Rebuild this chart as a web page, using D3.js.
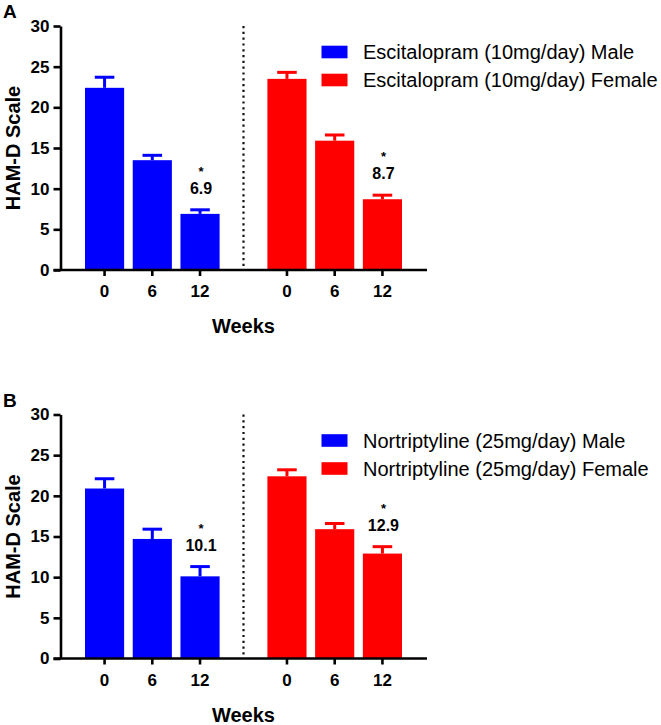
<!DOCTYPE html>
<html>
<head>
<meta charset="utf-8">
<script src="https://d3js.org/d3.v7.min.js"></script>
<style>
  body { margin: 0; background: #fff; }
  text { font-family: "Liberation Sans", Arial, sans-serif; }
</style>
</head>
<body>
<script>
// data
var weeks = ["0", "6", "12"];
var groups = ["Male", "Female"];
var colors = ["#0000ff", "#ff0000"];
var yTicks = [0, 5, 10, 15, 20, 25, 30];
var sigWeeks = ["12"];

var drugA = "Escitalopram (10mg/day)";
var maleA = [22.4, 13.5, 6.9];
var maleErrA = [1.3, 0.6, 0.5];
var femaleA = [23.5, 15.9, 8.7];
var femaleErrA = [0.8, 0.7, 0.5];

var drugB = "Nortriptyline (25mg/day)";
var maleB = [20.9, 14.7, 10.1];
var maleErrB = [1.2, 1.2, 1.2];
var femaleB = [22.4, 15.9, 12.9];
var femaleErrB = [0.8, 0.7, 0.85];

var panels = [
  { tag: "A", top: 26, drug: drugA, values: [maleA, femaleA], errs: [maleErrA, femaleErrA] },
  { tag: "B", top: 414.5, drug: drugB, values: [maleB, femaleB], errs: [maleErrB, femaleErrB] }
];

var svg = d3.select("body").append("svg")
  .attr("width", 661)
  .attr("height", 725);

var plotH = 244;
var axisX = 60.5;

var xOuter = d3.scaleBand().domain(groups).range([85, 402]).paddingInner(0.262);
var xInner = d3.scaleBand().domain(weeks).range([0, xOuter.bandwidth()]).paddingInner(0.18);

function draw_panel(p) {
  var bottom = p.top + plotH;
  var y = d3.scaleLinear().domain([0, 30]).range([bottom, p.top]);
  var g = svg.append("g");

  // panel letter
  g.append("text")
    .attr("x", 3).attr("y", p.top - 8)
    .attr("font-size", 19).attr("font-weight", "bold")
    .text(p.tag);

  // y axis
  var yAxis = g.append("g")
    .attr("transform", "translate(" + axisX + ",0)")
    .call(d3.axisLeft(y).tickValues(yTicks).tickSize(7).tickPadding(4).tickSizeOuter(0));
  yAxis.select(".domain").attr("stroke-width", 2.6);
  yAxis.selectAll(".tick line").attr("stroke-width", 2.6);
  yAxis.selectAll("text").attr("font-size", 17).attr("font-weight", "bold").attr("fill", "#000")
    .style("font-family", "Liberation Sans, Arial, sans-serif");

  g.append("text")
    .attr("transform", "translate(20," + (p.top + bottom) / 2 + ") rotate(-90)")
    .attr("text-anchor", "middle")
    .attr("font-size", 20).attr("font-weight", "bold")
    .text("HAM-D Scale");

  // bars per group
  groups.forEach(function (grp, gi) {
    var gx = xOuter(grp);
    var bars = g.append("g").attr("transform", "translate(" + gx + ",0)");
    var rows = weeks.map(function (w, i) {
      return { week: w, v: p.values[gi][i], e: p.errs[gi][i] };
    });

    bars.selectAll("rect").data(rows).enter().append("rect")
      .attr("x", function (d) { return xInner(d.week); })
      .attr("y", function (d) { return y(d.v); })
      .attr("width", xInner.bandwidth())
      .attr("height", function (d) { return y(0) - y(d.v); })
      .attr("fill", colors[gi]);

    var cw = xInner.bandwidth() / 2;
    bars.selectAll(".err").data(rows).enter().append("line")
      .attr("class", "err")
      .attr("x1", function (d) { return xInner(d.week) + xInner.bandwidth() / 2; })
      .attr("x2", function (d) { return xInner(d.week) + xInner.bandwidth() / 2; })
      .attr("y1", function (d) { return y(d.v); })
      .attr("y2", function (d) { return y(d.v + d.e); })
      .attr("stroke", colors[gi]).attr("stroke-width", 3);
    bars.selectAll(".cap").data(rows).enter().append("line")
      .attr("class", "cap")
      .attr("x1", function (d) { return xInner(d.week) + xInner.bandwidth() / 2 - cw / 2; })
      .attr("x2", function (d) { return xInner(d.week) + xInner.bandwidth() / 2 + cw / 2; })
      .attr("y1", function (d) { return y(d.v + d.e); })
      .attr("y2", function (d) { return y(d.v + d.e); })
      .attr("stroke", colors[gi]).attr("stroke-width", 3);

    // significance labels
    var sig = rows.filter(function (d) { return sigWeeks.indexOf(d.week) >= 0; });
    bars.selectAll(".val").data(sig).enter().append("text")
      .attr("x", function (d) { return xInner(d.week) + xInner.bandwidth() / 2 + 1; })
      .attr("y", function (d) { return y(d.v + d.e) - 16; })
      .attr("text-anchor", "middle")
      .attr("font-size", 16).attr("font-weight", "bold")
      .text(function (d) { return d.v.toFixed(1); });
    bars.selectAll(".star").data(sig).enter().append("text")
      .attr("x", function (d) { return xInner(d.week) + xInner.bandwidth() / 2 + 1; })
      .attr("y", function (d) { return y(d.v + d.e) - 34; })
      .attr("text-anchor", "middle")
      .attr("font-size", 13).attr("font-weight", "bold")
      .text("*");

    // x ticks for this group
    var xa = bars.append("g")
      .attr("transform", "translate(0," + bottom + ")")
      .call(d3.axisBottom(xInner).tickSize(6).tickPadding(9));
    xa.select(".domain").remove();
    xa.selectAll(".tick line").attr("stroke-width", 2.6);
    xa.selectAll("text").attr("font-size", 17).attr("font-weight", "bold").attr("fill", "#000")
      .style("font-family", "Liberation Sans, Arial, sans-serif");
  });

  // x axis line
  g.append("line")
    .attr("x1", axisX - 7).attr("x2", 427)
    .attr("y1", bottom).attr("y2", bottom)
    .attr("stroke", "#000").attr("stroke-width", 2.6);

  // dotted divider between groups
  var divX = (xOuter("Male") + xOuter.bandwidth() + xOuter("Female")) / 2;
  g.append("line")
    .attr("x1", divX).attr("x2", divX)
    .attr("y1", p.top).attr("y2", bottom)
    .attr("stroke", "#111").attr("stroke-width", 2.2)
    .attr("stroke-dasharray", "2.2,3.6");

  g.append("text")
    .attr("x", divX).attr("y", bottom + 63)
    .attr("text-anchor", "middle")
    .attr("font-size", 20).attr("font-weight", "bold")
    .text("Weeks");

  // legend
  var leg = g.append("g");
  groups.forEach(function (grp, gi) {
    var cy = p.top + 26 + gi * 28;
    leg.append("rect")
      .attr("x", 321.5).attr("y", cy - 6.3)
      .attr("width", 26).attr("height", 12.6)
      .attr("fill", colors[gi]);
    leg.append("text")
      .attr("x", 363).attr("y", cy + 7.2)
      .attr("font-size", 20)
      .text(p.drug + " " + grp);
  });
}

panels.forEach(draw_panel);
</script>
</body>
</html>
